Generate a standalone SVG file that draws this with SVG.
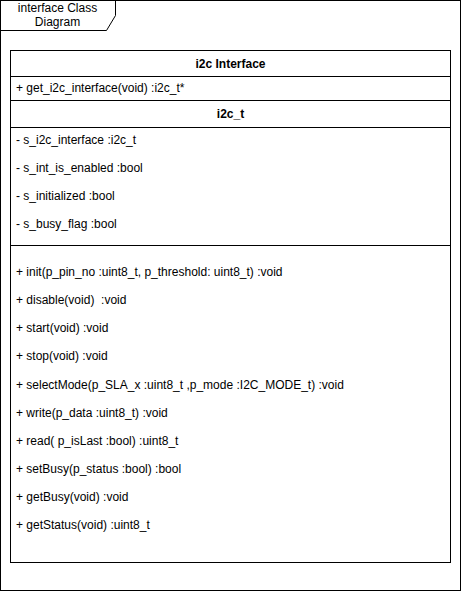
<svg xmlns="http://www.w3.org/2000/svg" width="461" height="591" viewBox="0 0 461 591">
<style>
.ln{fill:none;stroke:#000;stroke-width:1}
.t{font-family:"Liberation Sans",Arial,sans-serif;font-size:12px;fill:#000}
.b{font-weight:bold;text-anchor:middle}
.c{text-anchor:middle}
</style>
<rect width="461" height="591" fill="#fff"/>
<g id="frame">
<rect class="ln" x="0.5" y="0.5" width="460" height="590"/>
<path class="ln" d="M0.5,30.5 H106.5 L115.5,15.5 V0.5"/>
<text class="t c" x="57.5" y="12">interface Class</text>
<text class="t c" x="57.5" y="26">Diagram</text>
</g>
<g id="i2c-interface">
<rect class="ln" x="10.5" y="50.5" width="440" height="512"/>
<line class="ln" x1="10.5" y1="76.5" x2="450.5" y2="76.5"/>
<line class="ln" x1="10.5" y1="100.5" x2="450.5" y2="100.5"/>
<line class="ln" x1="10.5" y1="127.5" x2="450.5" y2="127.5"/>
<line class="ln" x1="10.5" y1="245.5" x2="450.5" y2="245.5"/>
<text class="t b" x="230.5" y="68">i2c Interface</text>
<text class="t" x="16" y="92">+ get_i2c_interface(void) :i2c_t*</text>
<text class="t b" x="230.5" y="118">i2c_t</text>
<text class="t" x="16" y="144">- s_i2c_interface :i2c_t</text>
<text class="t" x="16" y="172">- s_int_is_enabled :bool</text>
<text class="t" x="16" y="200">- s_initialized :bool</text>
<text class="t" x="16" y="228">- s_busy_flag :bool</text>
<text class="t" x="16" y="276">+ init(p_pin_no :uint8_t, p_threshold: uint8_t) :void</text>
<text class="t" x="16" y="304" xml:space="preserve">+ disable(void)  :void</text>
<text class="t" x="16" y="332">+ start(void) :void</text>
<text class="t" x="16" y="360">+ stop(void) :void</text>
<text class="t" x="16" y="389">+ selectMode(p_SLA_x :uint8_t ,p_mode :I2C_MODE_t) :void</text>
<text class="t" x="16" y="417">+ write(p_data :uint8_t) :void</text>
<text class="t" x="16" y="445">+ read( p_isLast :bool) :uint8_t</text>
<text class="t" x="16" y="473">+ setBusy(p_status :bool) :bool</text>
<text class="t" x="16" y="501">+ getBusy(void) :void</text>
<text class="t" x="16" y="529">+ getStatus(void) :uint8_t</text>
</g>
<g id="connectors"></g>
</svg>
